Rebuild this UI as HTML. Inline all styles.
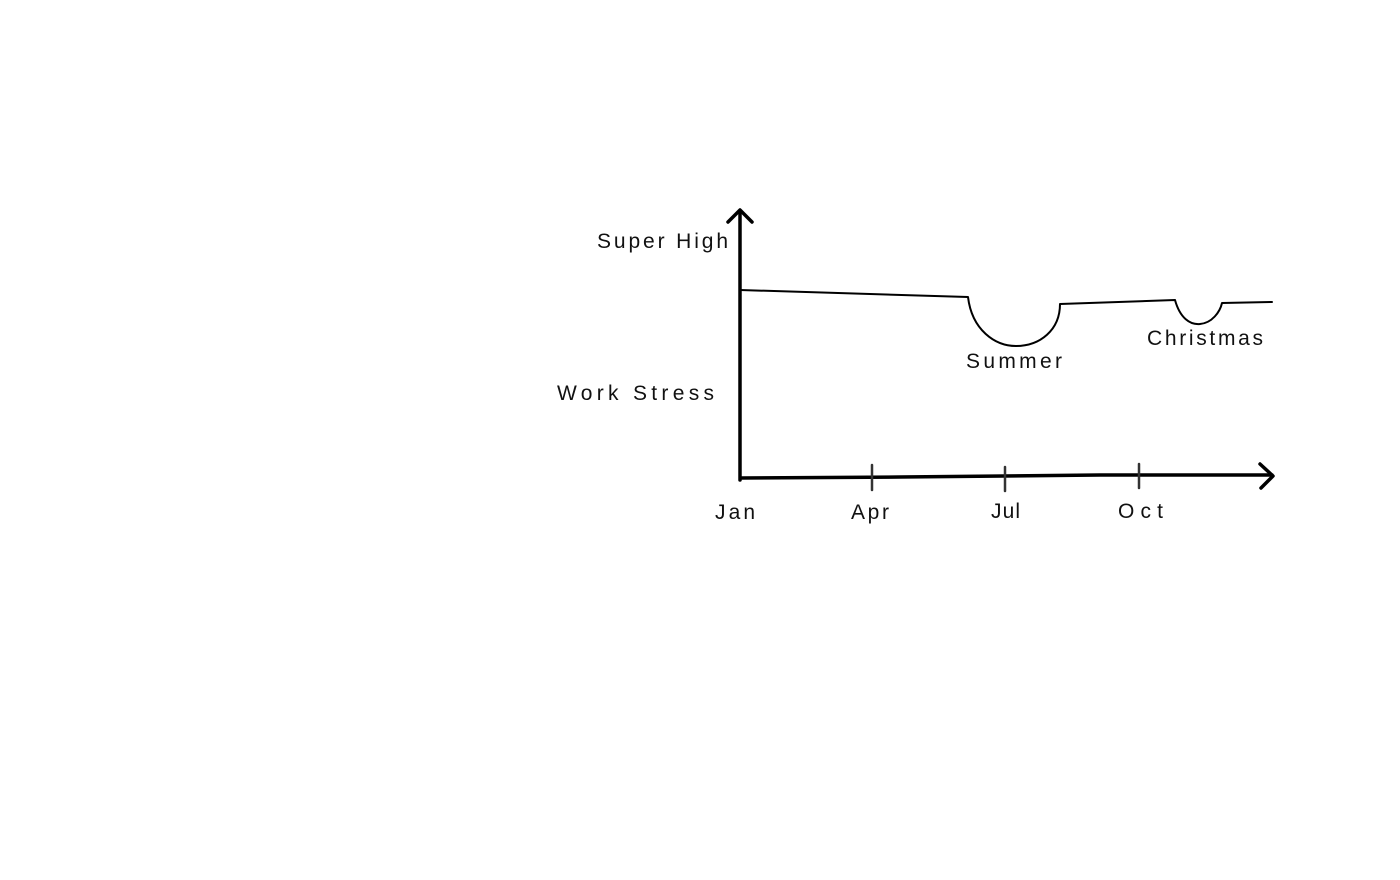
<!DOCTYPE html>
<html><head><style>
body{margin:0;background:#fff;width:1400px;height:875px;overflow:hidden}
svg text{font-family:"Liberation Sans",sans-serif;font-size:21px;fill:#111}
</style></head><body>
<svg width="1400" height="875" viewBox="0 0 1400 875">
<g fill="none" stroke="#000" stroke-linecap="round" stroke-linejoin="round">
<path d="M740 480 L740 212" stroke-width="3.5"/>
<path d="M728 222 L740 210 L752 222" stroke-width="3.5"/>
<path d="M741 478 L900 477 L1100 475 L1272 475" stroke-width="3.5"/>
<path d="M1260 464 L1273 476 L1261 488" stroke-width="3.5"/>
<path d="M872 465 L872 490 M1005 467 L1005 491 M1139 464 L1139 488" stroke-width="2.5" stroke="#333"/>
<path d="M740 290 L968 297 C972 330 995 346 1016 346 C1040 346 1060 330 1060 304 L1175 300 C1180 318 1190 325 1200 324 C1212 323 1220 312 1222 303 L1272 302" stroke-width="2"/>
</g>
<text x="597" y="248" textLength="131" lengthAdjust="spacing">Super High</text>
<text x="557" y="400" textLength="157" lengthAdjust="spacing">Work Stress</text>
<text x="966" y="368" textLength="96" lengthAdjust="spacing">Summer</text>
<text x="1147" y="345" textLength="116" lengthAdjust="spacing">Christmas</text>
<text x="715" y="519" textLength="40" lengthAdjust="spacing">Jan</text>
<text x="851" y="519" textLength="38" lengthAdjust="spacing">Apr</text>
<text x="991" y="518" textLength="29" lengthAdjust="spacing">Jul</text>
<text x="1118" y="518" textLength="45" lengthAdjust="spacing">Oct</text>
</svg>
</body></html>
